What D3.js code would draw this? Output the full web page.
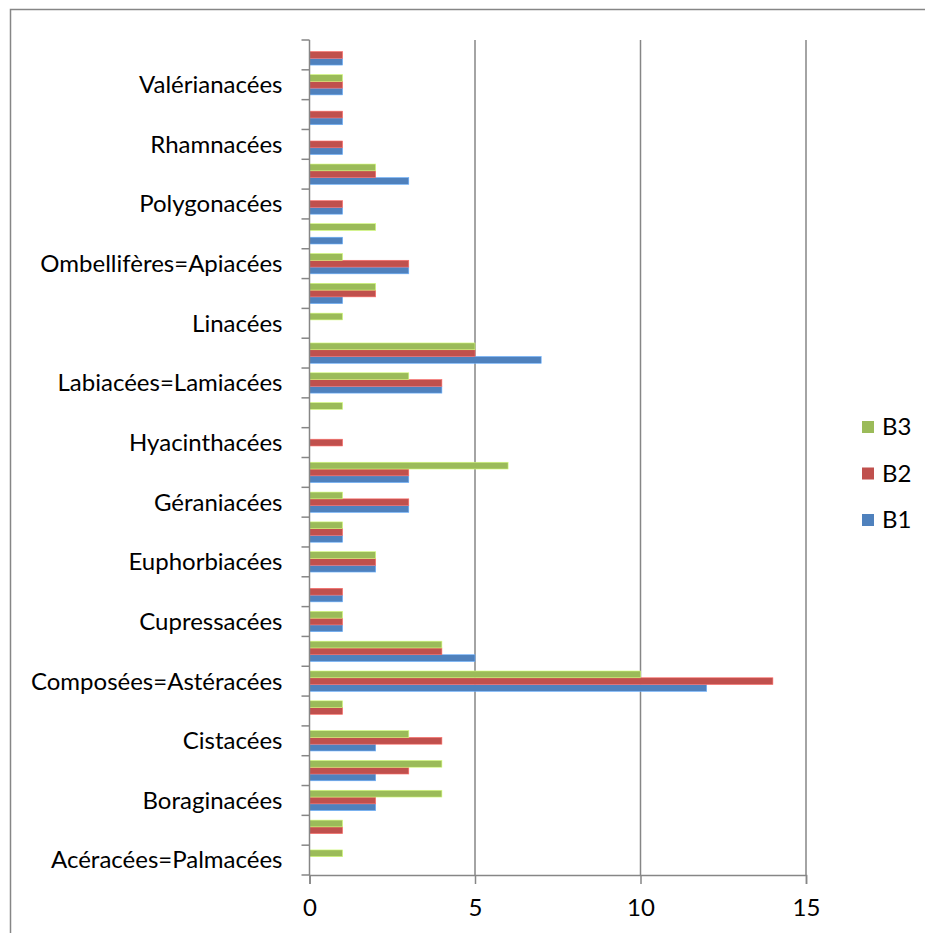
<!DOCTYPE html>
<html>
<head>
<meta charset="utf-8">
<script src="https://cdn.jsdelivr.net/npm/d3@7"></script>
<style>
  html, body { margin: 0; padding: 0; background: #fff; }
  svg { display: block; }
  text { font-family: Lato, "Open Sans", sans-serif; fill: #000; }
</style>
</head>
<body>
<svg id="chart" width="925" height="933"></svg>
<script>
// Plant families, listed bottom to top
const categories = [
  "Acéracées=Palmacées", "Anacardiacées", "Boraginacées", "Caryophyllacées",
  "Cistacées", "Colchicacées", "Composées=Astéracées", "Crucifères=Brassicacées",
  "Cupressacées", "Ericacées", "Euphorbiacées", "Fabacées",
  "Géraniacées", "Graminées=Poacées", "Hyacinthacées", "Iridacées",
  "Labiacées=Lamiacées", "Liliacées", "Linacées", "Malvacées",
  "Ombellifères=Apiacées", "Plantaginacées", "Polygonacées", "Renonculacées",
  "Rhamnacées", "Rosacées", "Valérianacées", "Zygophyllacées"
];
const seriesNames = ["B1", "B2", "B3"];
const b1 = [0, 0, 2, 2, 2, 0, 12, 5, 1, 1, 2, 1, 3, 3, 0, 0, 4, 7, 0, 1, 3, 1, 1, 3, 1, 1, 1, 1];
const b2 = [0, 1, 2, 3, 4, 1, 14, 4, 1, 1, 2, 1, 3, 3, 1, 0, 4, 5, 0, 2, 3, 0, 1, 2, 1, 1, 1, 1];
const b3 = [1, 1, 4, 4, 3, 1, 10, 4, 1, 0, 2, 1, 1, 6, 0, 1, 3, 5, 1, 2, 1, 2, 0, 2, 0, 0, 1, 0];
const xTicks = [0, 5, 10, 15];
const colors = { B1: "#4F81BD", B2: "#C0504D", B3: "#9BBB59" };

const values = { B1: b1, B2: b2, B3: b3 };
const rows = categories.map((c, i) => ({
  cat: c,
  vals: seriesNames.map(s => ({ s, v: values[s][i] }))
}));

const fontSize = 24;
const svg = d3.select("#chart");

// outer chart frame
svg.append("rect")
  .attr("x", 10.5).attr("y", 9.5)
  .attr("width", 940).attr("height", 940)
  .attr("fill", "none").attr("stroke", "#868686").attr("stroke-width", 1.5);

const plot = { left: 309.5, right: 806, top: 40, bottom: 875 };

const x = d3.scaleLinear().domain([0, 15]).range([plot.left, plot.right]);
// first category at the bottom
const y = d3.scaleBand().domain(categories).range([plot.bottom, plot.top]).padding(0);
const yInner = d3.scaleBand().domain(["B3", "B2", "B1"])
  .range([0, y.bandwidth()]).paddingInner(0).paddingOuter(0.7);

// vertical gridlines
svg.append("g")
  .selectAll("line")
  .data(xTicks.filter(t => t > 0))
  .join("line")
  .attr("x1", d => x(d)).attr("x2", d => x(d))
  .attr("y1", plot.top).attr("y2", plot.bottom)
  .attr("stroke", "#868686").attr("stroke-width", 1.5);

// bars
const groups = svg.append("g")
  .selectAll("g")
  .data(rows)
  .join("g")
  .attr("transform", d => `translate(0,${y(d.cat)})`);

groups.selectAll("rect")
  .data(d => d.vals.filter(e => e.v > 0))
  .join("rect")
  .attr("x", x(0))
  .attr("y", e => yInner(e.s))
  .attr("width", e => x(e.v) - x(0))
  .attr("height", yInner.bandwidth())
  .attr("fill", e => colors[e.s])
  .attr("stroke", e => d3.color(colors[e.s]).brighter(0.9))
  .attr("stroke-width", 0.6);

// x axis
const xAxis = svg.append("g")
  .attr("transform", `translate(0,${plot.bottom})`)
  .call(d3.axisBottom(x).tickValues(xTicks).tickSize(9).tickPadding(15));
xAxis.select(".domain").attr("stroke", "#868686").attr("stroke-width", 1.5);
xAxis.selectAll(".tick line").attr("stroke", "#868686").attr("stroke-width", 1.5);
xAxis.selectAll(".tick text").attr("font-size", fontSize).attr("font-family", "Lato, sans-serif");

// y axis: ticks between categories, labels on every other category
const yAxisG = svg.append("g").attr("transform", `translate(${plot.left},0)`);
yAxisG.append("line")
  .attr("x1", 0).attr("x2", 0)
  .attr("y1", plot.top).attr("y2", plot.bottom)
  .attr("stroke", "#868686").attr("stroke-width", 1.5);
const boundaries = d3.range(categories.length + 1).map(i => plot.bottom - i * y.step());
yAxisG.selectAll("line.tk")
  .data(boundaries)
  .join("line")
  .attr("class", "tk")
  .attr("x1", -8).attr("x2", 0)
  .attr("y1", d => d).attr("y2", d => d)
  .attr("stroke", "#868686").attr("stroke-width", 1.5);
yAxisG.selectAll("text")
  .data(categories.filter((c, i) => i % 2 === 0))
  .join("text")
  .attr("x", -27)
  .attr("y", d => y(d) + y.bandwidth() / 2)
  .attr("dy", "0.35em")
  .attr("text-anchor", "end")
  .attr("font-size", fontSize)
  .text(d => d);

// legend
const legend = svg.append("g")
  .selectAll("g")
  .data(["B3", "B2", "B1"])
  .join("g")
  .attr("transform", (d, i) => `translate(862,${427 + i * 46.5})`);
legend.append("rect")
  .attr("x", 0).attr("y", -6).attr("width", 12).attr("height", 12)
  .attr("fill", d => colors[d]);
legend.append("text")
  .attr("x", 20).attr("y", 0).attr("dy", "0.35em")
  .attr("font-size", fontSize)
  .text(d => d);
</script>
</body>
</html>
